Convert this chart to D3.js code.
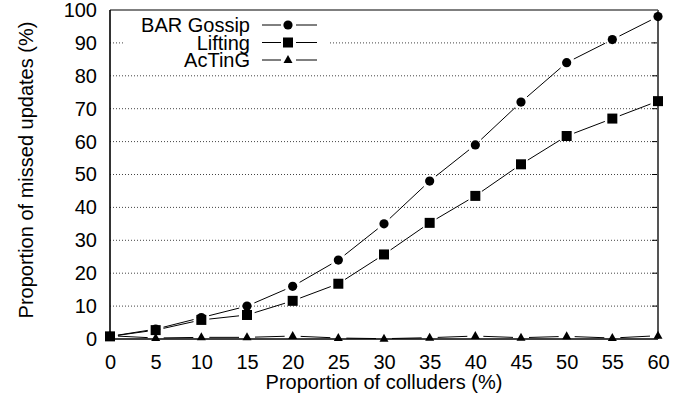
<!DOCTYPE html>
<html>
<head>
<meta charset="utf-8">
<script src="https://cdn.jsdelivr.net/npm/d3@7"></script>
<style>
  body { margin: 0; background: #fff; }
  text { font-family: "Liberation Sans", Arial, sans-serif; fill: #000; }
</style>
</head>
<body>
<svg id="chart" width="694" height="411"></svg>
<script>
// x values: proportion of colluders (%)
const colluders = [0, 5, 10, 15, 20, 25, 30, 35, 40, 45, 50, 55, 60];
// series values: proportion of missed updates (%)
const barGossip = [0.8, 3, 6.5, 10, 16, 24, 35, 48, 59, 72, 84, 91, 98];
const lifting = [0.8, 2.7, 5.8, 7.3, 11.6, 16.8, 25.7, 35.3, 43.5, 53.1, 61.7, 67, 72.3];
const acting = [1, 0.3, 0.5, 0.5, 0.9, 0.3, 0.1, 0.4, 0.9, 0.4, 0.8, 0.3, 1.0];
const yTicks = [0, 10, 20, 30, 40, 50, 60, 70, 80, 90, 100];
const xTicks = colluders;

const seriesList = [
    { name: "BAR Gossip", values: barGossip, shape: "circle" },
    { name: "Lifting", values: lifting, shape: "square" },
    { name: "AcTinG", values: acting, shape: "triangle" }
];

const fontSize = "20px";
const margin = { top: 10, right: 36, bottom: 72, left: 110 };
const width = 694 - margin.left - margin.right;
const height = 411 - margin.top - margin.bottom;

const svg = d3.select("#chart");
const g = svg.append("g").attr("transform", `translate(${margin.left},${margin.top})`);

const x = d3.scaleLinear().domain([0, 60]).range([0, width]);
const y = d3.scaleLinear().domain([0, 100]).range([height, 0]);

// legend area blocks the grid lines
const legendBox = { x0: 13, x1: 220, y0: 0, y1: 62 };

// dotted grid lines (skip 0 and 100, cut around the legend)
yTicks.filter(t => t > 0 && t < 100).forEach(t => {
    const yy = y(t);
    const segs = (yy > legendBox.y0 && yy < legendBox.y1)
        ? [[0, legendBox.x0], [legendBox.x1, width]]
        : [[0, width]];
    segs.forEach(([a, b]) => {
        g.append("line")
            .attr("x1", a).attr("x2", b)
            .attr("y1", yy).attr("y2", yy)
            .attr("stroke", "#444")
            .attr("stroke-width", 1)
            .attr("stroke-dasharray", "1,2");
    });
});

// axes
g.append("g")
    .attr("transform", `translate(0,${height})`)
    .call(d3.axisBottom(x).tickValues(xTicks).tickSize(0).tickPadding(16).tickFormat(d3.format("d")))
    .call(s => s.select(".domain").remove())
    .selectAll("text").style("font-size", fontSize).style("font-family", "Liberation Sans, Arial, sans-serif");

g.append("g")
    .call(d3.axisLeft(y).tickValues(yTicks).tickSize(0).tickPadding(13).tickFormat(d3.format("d")))
    .call(s => s.select(".domain").remove())
    .selectAll("text").style("font-size", fontSize).style("font-family", "Liberation Sans, Arial, sans-serif");

// right side ticks
yTicks.filter(t => t > 0 && t < 100).forEach(t => {
    g.append("line")
        .attr("x1", width - 6).attr("x2", width)
        .attr("y1", y(t)).attr("y2", y(t))
        .attr("stroke", "#000");
});

// frame
g.append("line").attr("x1", 0).attr("x2", width).attr("y1", 0).attr("y2", 0).attr("stroke", "#000").attr("stroke-width", 1.2);
g.append("line").attr("x1", 0).attr("x2", width).attr("y1", height).attr("y2", height).attr("stroke", "#000").attr("stroke-width", 1.6);
g.append("line").attr("x1", 0).attr("x2", 0).attr("y1", 0).attr("y2", height).attr("stroke", "#000").attr("stroke-width", 1.6);
g.append("line").attr("x1", width).attr("x2", width).attr("y1", 0).attr("y2", height).attr("stroke", "#555").attr("stroke-width", 2);

function drawMarker(sel, shape, cx, cy) {
    if (shape === "circle") {
        sel.append("circle").attr("cx", cx).attr("cy", cy).attr("r", 4.6).attr("fill", "#000");
    } else if (shape === "square") {
        sel.append("rect").attr("x", cx - 5).attr("y", cy - 5).attr("width", 10).attr("height", 10).attr("fill", "#000");
    } else {
        sel.append("path")
            .attr("d", `M${cx},${cy - 5}L${cx + 4.5},${cy + 3}L${cx - 4.5},${cy + 3}Z`)
            .attr("fill", "#000");
    }
}

// line segments with gaps around the points
const gap = 8;
seriesList.forEach(s => {
    const pts = s.values.map((v, i) => [x(colluders[i]), y(v)]);
    for (let i = 0; i < pts.length - 1; i++) {
        const [x1, y1] = pts[i], [x2, y2] = pts[i + 1];
        const len = Math.hypot(x2 - x1, y2 - y1);
        if (len <= 2 * gap) continue;
        const ux = (x2 - x1) / len, uy = (y2 - y1) / len;
        g.append("line")
            .attr("x1", x1 + ux * gap).attr("y1", y1 + uy * gap)
            .attr("x2", x2 - ux * gap).attr("y2", y2 - uy * gap)
            .attr("stroke", "#000").attr("stroke-width", 1);
    }
});
seriesList.forEach(s => {
    s.values.forEach((v, i) => drawMarker(g, s.shape, x(colluders[i]), y(v)));
});

// legend
const legend = g.append("g");
seriesList.forEach((s, i) => {
    const ly = 15 + i * 17.5;
    legend.append("text")
        .attr("x", 140).attr("y", ly).attr("dy", "0.35em")
        .attr("text-anchor", "end")
        .style("font-size", fontSize)
        .text(s.name);
    legend.append("line").attr("x1", 152).attr("x2", 171).attr("y1", ly).attr("y2", ly).attr("stroke", "#000");
    legend.append("line").attr("x1", 186).attr("x2", 207).attr("y1", ly).attr("y2", ly).attr("stroke", "#000");
    drawMarker(legend, s.shape, 178, ly);
});

// axis titles
svg.append("text")
    .attr("x", margin.left + width / 2).attr("y", 382).attr("dy", "0.35em")
    .attr("text-anchor", "middle")
    .style("font-size", fontSize)
    .text("Proportion of colluders (%)");

svg.append("text")
    .attr("transform", `translate(26,170) rotate(-90)`)
    .attr("dy", "0.35em")
    .attr("text-anchor", "middle")
    .style("font-size", fontSize)
    .text("Proportion of missed updates (%)");
</script>
</body>
</html>
